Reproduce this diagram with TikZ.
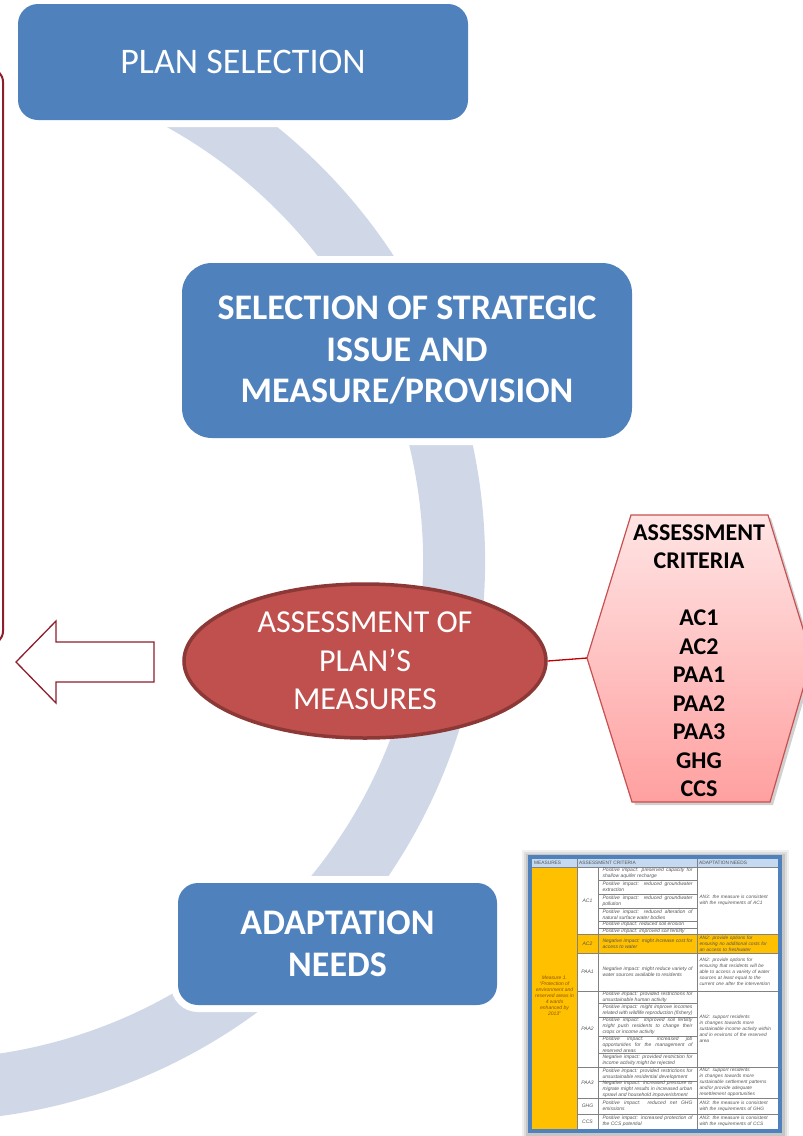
\documentclass[tikz,border=0pt]{standalone}
\usepackage{fontspec}
\setmainfont{Carlito}
\newfontfamily\tabfont{Liberation Sans}
\usetikzlibrary{shapes.geometric}
\definecolor{boxblue}{RGB}{79,129,189}
\definecolor{bandblue}{RGB}{208,216,232}
\definecolor{ellred}{RGB}{192,80,77}
\definecolor{ellborder}{RGB}{140,56,54}
\definecolor{darkred}{RGB}{140,30,45}
\definecolor{hextop}{RGB}{255,228,228}
\definecolor{hexbot}{RGB}{255,160,160}
\definecolor{hexborder}{RGB}{200,80,80}
\definecolor{linkred}{RGB}{192,0,0}
\definecolor{tborange}{RGB}{255,192,0}
\definecolor{tbhead}{RGB}{197,217,241}
\definecolor{tbframe}{RGB}{79,129,189}
\definecolor{tbtext}{RGB}{85,85,85}
\definecolor{tbmtext}{RGB}{140,85,10}
\definecolor{tbgrid}{RGB}{130,130,130}
\tikzset{
  stagebox/.style={fill=boxblue, text=white, align=center, inner sep=0pt,
    preaction={draw=white, line width=14pt}},
  stagefont/.style={font=\fontsize{36}{41.5}\selectfont},
  stagebold/.style={font=\fontsize{36}{41.5}\selectfont\bfseries},
  tcell/.style={font=\tabfont\itshape\fontsize{5}{6}\selectfont\hyphenpenalty10000\tolerance9999\emergencystretch4pt,
    text=tbtext, inner sep=0pt, text width=90pt, align=justify},
  acell/.style={font=\tabfont\itshape\fontsize{4.8}{6}\selectfont\hyphenpenalty10000,
    text=tbtext, inner sep=0pt, text width=73pt, align=left},
  ccell/.style={font=\tabfont\itshape\fontsize{5}{6}\selectfont, text=tbtext, inner sep=0pt},
  hcell/.style={font=\tabfont\fontsize{4.8}{6}\selectfont, text=tbtext, inner sep=0pt, anchor=west},
  grid/.style={tbgrid, line width=0.4pt},
}
\begin{document}
\begin{tikzpicture}[x=1pt,y=-1pt]
\useasboundingbox (0,0) rectangle (803,1136);
\begin{scope}
\clip (0,0) rectangle (803,1136);
% background band
\draw[bandblue, line width=62pt] ([shift={(-74,562)}]-78:528) arc[start angle=-78, end angle=105, radius=528];
% left feedback frame
\draw[darkred, line width=2pt, rounded corners=14pt] (-30,68) -- (3,68) -- (3,645) -- (-30,645);
% outline arrow
\draw[darkred, line width=1.3pt, fill=white] (16,662) -- (56,621) -- (56,642) -- (154,642) -- (154,682) -- (56,682) -- (56,703) -- cycle;
% stages
\node[stagebox, stagefont, rounded corners=20pt, minimum width=450pt, minimum height=116pt] (plan) at (243,62) {PLAN SELECTION};
\node[stagebox, stagebold, rounded corners=30pt, minimum width=450pt, minimum height=175pt] (strat) at (407,350.5) {SELECTION OF STRATEGIC\\ISSUE AND\\MEASURE/PROVISION};
\node[stagebox, stagebold, rounded corners=20pt, minimum width=319pt, minimum height=122pt] (adapt) at (337.5,944) {ADAPTATION\\NEEDS};
% assessment ellipse
\node[ellipse, fill=ellred, draw=ellborder, line width=3.5pt, minimum width=362pt, minimum height=154pt, inner sep=0pt, text=white, align=center, font=\fontsize{32}{38.5}\selectfont] (ell) at (365,661) {ASSESSMENT OF\\PLAN’S\\MEASURES};
% hexagon of criteria
\coordinate (hexL) at (587,658);
\fill[black, opacity=0.18] (634,518) -- (771,518) -- (815,661) -- (773,805) -- (635,805) -- (590,661) -- cycle;
\draw[hexborder, line width=1.2pt, top color=hextop, bottom color=hexbot] (631,515) -- (768,515) -- (812,658) -- (770,802) -- (632,802) -- (hexL) -- cycle;
\node[align=center, inner sep=0pt, font=\fontsize{24}{28.5}\selectfont\bfseries] (crit) at (699,660.5) {ASSESSMENT\\CRITERIA\\[28.5pt]AC1\\AC2\\PAA1\\PAA2\\PAA3\\GHG\\CCS};
\draw[linkred, line width=1.3pt] (ell.east) -- (hexL);
% table thumbnail: shadow and frame
\fill[black, opacity=0.06] (522,850) rectangle (789,1140);
\fill[black, opacity=0.08] (524,852) rectangle (787,1140);
\fill[black, opacity=0.10] (526,854) rectangle (785,1140);
\fill[white] (532,859) rectangle (778,1129);
\fill[tbhead] (532,859) rectangle (778,867);
\fill[tborange] (532,867) rectangle (577,1129);
\fill[tborange] (577,934) rectangle (778,953);
% grid
\draw[grid] (532,867) -- (778,867);
\draw[grid] (577,859) -- (577,1129);
\draw[grid] (598,867) -- (598,1129);
\draw[grid] (697,859) -- (697,1129);
\foreach \yy in {934,953,991,1067,1098,1114}{\draw[grid] (577,\yy) -- (778,\yy);}
\foreach \yy in {880,894,908,921,928,1003,1017,1036,1053,1081}{\draw[grid] (598,\yy) -- (697,\yy);}
\draw[tbframe, line width=4pt] (530,857) rectangle (780,1131);
% header
\node[hcell] (h1) at (534,863) {MEASURES};
\node[hcell] (h2) at (579,863) {ASSESSMENT CRITERIA};
\node[hcell] (h3) at (699,863) {ADAPTATION NEEDS};
% measure
\node[ccell, text=tbmtext, align=center] (m1) at (554.5,996) {Measure 1.\\“Protection of\\environment and\\reserved areas in\\4 wards\\enhanced by\\2013”};
% codes
\node[ccell] (k1) at (587.5,900.5) {AC1};
\node[ccell] (k2) at (587.5,943.5) {AC2};
\node[ccell] (k3) at (587.5,972) {PAA1};
\node[ccell] (k4) at (587.5,1029) {PAA2};
\node[ccell] (k5) at (587.5,1082.5) {PAA3};
\node[ccell] (k6) at (587.5,1106) {GHG};
\node[ccell] (k7) at (587.5,1121.5) {CCS};
% criteria texts
\node[tcell] (c1) at (647.5,873.5) {Positive impact: preserved capacity for shallow aquifer recharge};
\node[tcell] (c2) at (647.5,887) {Positive impact: reduced groundwater extraction};
\node[tcell] (c3) at (647.5,901) {Positive impact: reduced groundwater pollution};
\node[tcell] (c4) at (647.5,914.5) {Positive impact: reduced alteration of natural surface water bodies};
\node[tcell] (c5) at (647.5,924.5) {Positive impact: reduced soil erosion};
\node[tcell] (c6) at (647.5,931) {Positive impact: improved soil fertility};
\node[tcell] (c7) at (647.5,943.5) {Negative impact: might increase cost for access to water};
\node[tcell] (c8) at (647.5,972) {Negative impact: might reduce variety of water sources available to residents};
\node[tcell] (c9) at (647.5,997) {Positive impact: provided restrictions for unsustainable human activity};
\node[tcell] (c10) at (647.5,1010) {Positive impact: might improve incomes related with wildlife reproduction (fishery)};
\node[tcell] (c11) at (647.5,1026.5) {Positive impact: improved soil fertility might push residents to change their crops or income activity};
\node[tcell] (c12) at (647.5,1044.5) {Positive impact: increased job opportunities for the management of reserved areas};
\node[tcell] (c13) at (647.5,1060) {Negative impact: provided restriction for income activity might be rejected};
\node[tcell] (c14) at (647.5,1074) {Positive impact: provided restrictions for unsustainable residential development};
\node[tcell] (c15) at (647.5,1089.5) {Negative impact: increased pressure to migrate might results in increased urban sprawl and household impoverishment};
\node[tcell] (c16) at (647.5,1106) {Positive impact: reduced net GHG emissions};
\node[tcell] (c17) at (647.5,1121.5) {Positive impact: increased protection of the CCS potential};
% adaptation texts
\node[acell] (a1) at (736,900.5) {AN3: the measure is consistent with the requirements of AC1};
\node[acell] (a2) at (736,943.5) {AN2: provide options for ensuring no additional costs for an access to freshwater};
\node[acell] (a3) at (736,972) {AN2: provide options for ensuring that residents will be able to access a variety of water sources at least equal to the current one after the intervention};
\node[acell] (a4) at (736,1029) {AN2: support residents in changes towards more sustainable income activity within and in environs of the reserved area};
\node[acell] (a5) at (736,1082.5) {AN2: support residents in changes towards more sustainable settlement patterns and/or provide adequate resettlement opportunities};
\node[acell] (a6) at (736,1106) {AN3: the measure is consistent with the requirements of GHG};
\node[acell] (a7) at (736,1121.5) {AN3: the measure is consistent with the requirements of CCS};
\end{scope}
\end{tikzpicture}
\end{document}
